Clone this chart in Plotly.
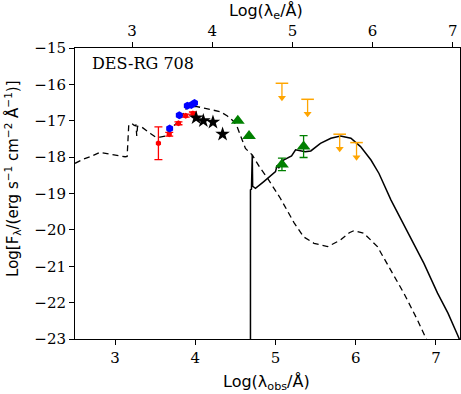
import numpy as np
import plotly.graph_objects as go

# redshift used for the rest-frame (top) axis
z = 0.625

# model curves (log lambda_obs, log F_lambda)
dashed_x = [2.50, 2.60, 2.69, 2.81, 2.94, 3.06, 3.125, 3.15, 3.16, 3.17, 3.21, 3.24, 3.26, 3.27, 3.28,
            3.33, 3.44, 3.50, 3.56, 3.625, 3.69, 3.79, 3.85, 3.90, 4.02, 4.10, 4.19, 4.31, 4.40, 4.47,
            4.52, 4.58, 4.625, 4.71, 4.80, 4.90, 5.06, 5.23, 5.35, 5.48, 5.65, 5.81, 5.92, 5.98, 6.10,
            6.27, 6.44, 6.60, 6.77, 6.87, 6.89]
dashed_y = [-18.17, -18.06, -17.99, -17.87, -17.92, -17.97, -17.99, -17.98, -17.40, -17.12, -17.08, -17.13,
            -17.12, -17.42, -17.15, -17.17, -17.35, -17.44, -17.45, -17.42, -17.21, -17.03, -16.80, -16.62,
            -16.61, -16.65, -16.70, -16.75, -16.87, -17.00, -17.16, -17.48, -17.76, -17.94, -18.27, -18.58,
            -19.13, -19.80, -20.19, -20.37, -20.46, -20.28, -20.08, -20.02, -20.09, -20.46, -21.10, -21.74,
            -22.48, -22.95, -23.05]

solid_x = [4.6875, 4.6875, 4.70, 4.71, 4.715, 4.75, 4.85, 4.98, 5.00, 5.02, 5.04, 5.10, 5.15, 5.20, 5.25,
           5.31, 5.37, 5.44, 5.50, 5.56, 5.69, 5.81, 5.94, 6.06, 6.19, 6.29, 6.44, 6.65, 6.85, 7.02, 7.15,
           7.27, 7.30]
solid_y = [-23.5, -18.90, -18.88, -17.94, -18.80, -18.86, -18.68, -18.44, -18.40, -18.22, -18.30, -18.08,
           -18.03, -17.97, -17.80, -17.83, -17.85, -17.83, -17.72, -17.62, -17.48, -17.42, -17.48, -17.71,
           -18.08, -18.45, -19.18, -20.09, -20.92, -21.74, -22.29, -22.89, -23.05]

# photometry
red_x = [3.54, 3.675, 3.79, 3.88, 3.97]
red_y = [-17.62, -17.37, -17.07, -16.86, -16.80]
red_err = [0.45, 0.05, 0.04, 0.04, 0.04]

blue_x = [3.68, 3.80, 3.90, 3.95, 3.99]
blue_y = [-17.21, -16.85, -16.59, -16.57, -16.51]

star_x = [4.01, 4.10, 4.22, 4.34]
star_y = [-16.92, -17.00, -17.04, -17.37]

green_x = [4.53, 4.67, 5.08, 5.35]
green_y = [-17.00, -17.42, -18.20, -17.71]
green_err = [0, 0, 0.17, 0.30]

lim_x = [5.08, 5.40, 5.80, 6.01]
lim_y = [-15.97, -16.41, -17.37, -17.60]
lim_len = 0.4

xr = [2.5, 7.3]
yr = [-23, -15]
shift = np.log10(1 + z)

fig = go.Figure()
fig.add_trace(go.Scatter(x=dashed_x, y=dashed_y, mode='lines',
                         line=dict(color='black', width=1.3, dash='6px,4px')))
fig.add_trace(go.Scatter(x=solid_x, y=solid_y, mode='lines',
                         line=dict(color='black', width=1.5)))
fig.add_trace(go.Scatter(x=red_x, y=red_y, mode='markers',
                         marker=dict(symbol='hexagon', size=6, color='red'),
                         error_y=dict(type='data', array=red_err, color='red', thickness=1.3, width=4)))
fig.add_trace(go.Scatter(x=blue_x, y=blue_y, mode='markers',
                         marker=dict(symbol='hexagon', size=8, color='blue')))
fig.add_trace(go.Scatter(x=star_x, y=star_y, mode='markers',
                         marker=dict(symbol='star', size=11, color='black')))
fig.add_trace(go.Scatter(x=green_x, y=green_y, mode='markers',
                         marker=dict(symbol='triangle-up', size=12, color='green'),
                         error_y=dict(type='data', array=green_err, color='green', thickness=1.3, width=4)))
# upper limits: bar + arrow head
fig.add_trace(go.Scatter(x=lim_x, y=lim_y, mode='markers',
                         marker=dict(symbol='line-ew', size=9, line=dict(color='orange', width=1.5)),
                         error_y=dict(type='data', symmetric=False, array=[0] * len(lim_x),
                                      arrayminus=[lim_len] * len(lim_x), color='orange',
                                      thickness=1.3, width=0)))
fig.add_trace(go.Scatter(x=lim_x, y=[v - lim_len for v in lim_y], mode='markers',
                         marker=dict(symbol='triangle-down', size=7, color='orange')))
# dummy trace for the rest-frame axis
fig.add_trace(go.Scatter(x=[], y=[], xaxis='x2', mode='markers'))

serif = dict(family='DejaVu Serif', size=15, color='black')
sans = dict(family='DejaVu Sans', size=16, color='black')

fig.update_layout(
    width=461, height=394,
    margin=dict(l=75, r=1, t=48, b=55, autoexpand=False),
    plot_bgcolor='white', paper_bgcolor='white',
    showlegend=False,
    xaxis=dict(range=xr, tickvals=[3, 4, 5, 6, 7], ticks='outside', ticklen=5, tickcolor='black',
               showline=True, linecolor='black', linewidth=1, mirror=True, showgrid=False,
               zeroline=False, tickfont=serif, automargin=False),
    xaxis2=dict(range=[xr[0] - shift, xr[1] - shift], overlaying='x', side='top', anchor='y',
                tickvals=[3, 4, 5, 6, 7], ticks='outside', ticklen=5, tickcolor='black',
                showgrid=False, zeroline=False, tickfont=serif, automargin=False),
    yaxis=dict(range=yr, dtick=1, ticks='outside', ticklen=5, tickcolor='black',
               showline=True, linecolor='black', linewidth=1, mirror=True, showgrid=False,
               zeroline=False, tickfont=serif, automargin=False),
    annotations=[
        dict(text='DES-RG 708', xref='paper', yref='paper', x=0.04, y=0.985,
             xanchor='left', yanchor='top', showarrow=False,
             font=dict(family='DejaVu Serif', size=16, color='black')),
        dict(text='Log(λ<sub>obs</sub>/Å)', xref='paper', yref='paper', x=0.497, y=-0.148,
             xanchor='center', yanchor='middle', showarrow=False, font=sans),
        dict(text='Log(λ<sub>e</sub>/Å)', xref='paper', yref='paper', x=0.497, y=1.125,
             xanchor='center', yanchor='middle', showarrow=False, font=sans),
        dict(text='Log[F<sub>λ</sub>/(erg s<sup>−1</sup> cm<sup>−2</sup> Å<sup>−1</sup>)]',
             xref='paper', yref='paper', x=-0.164, y=0.553, textangle=-90,
             xanchor='center', yanchor='middle', showarrow=False,
             font=dict(family='DejaVu Sans', size=15, color='black')),
    ],
)

fig.write_html("out.html", config={'displayModeBar': False},
               post_script="document.body.style.margin='0';")
